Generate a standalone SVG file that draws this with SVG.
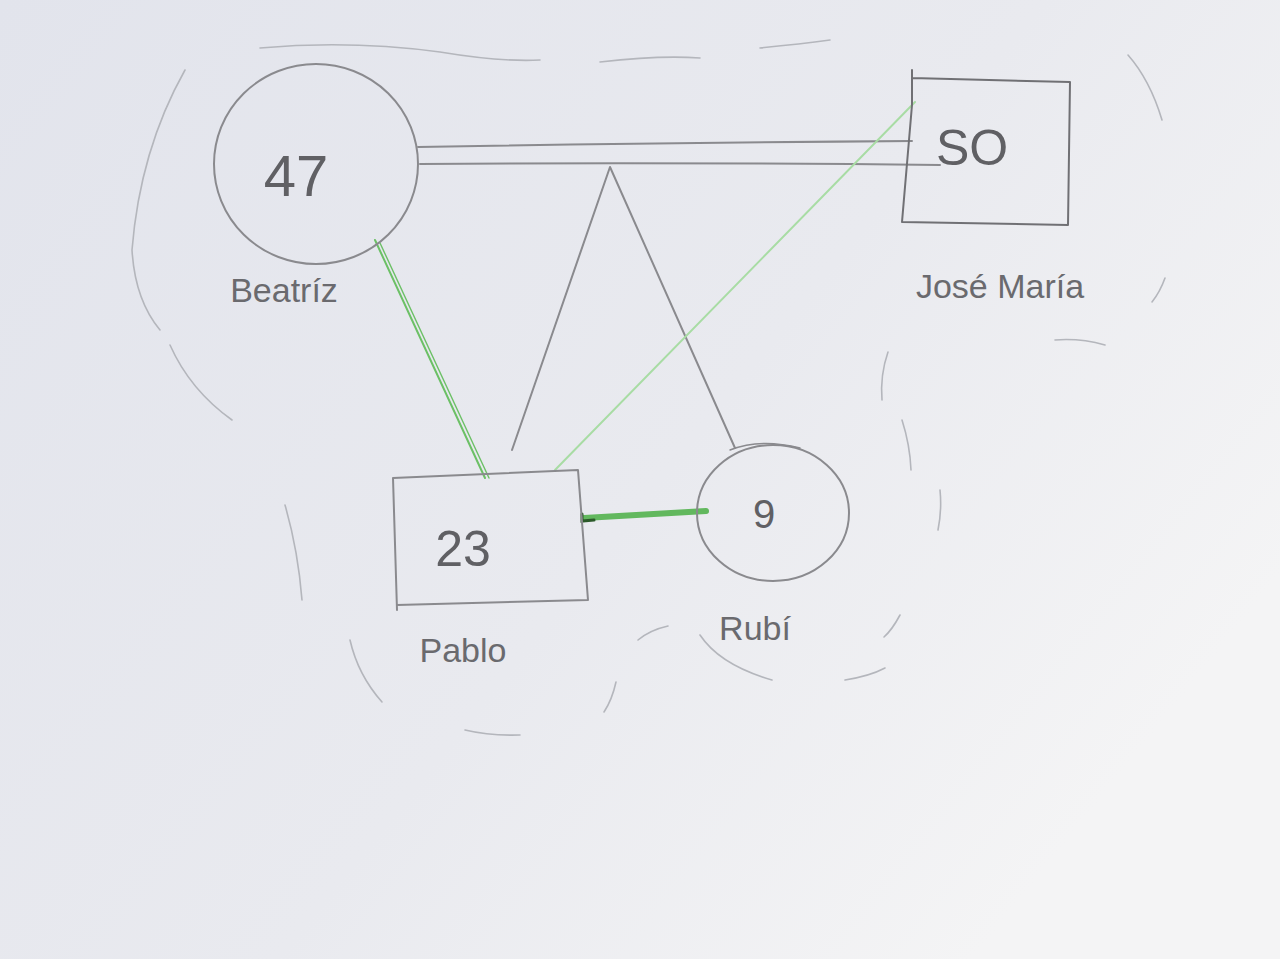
<svg xmlns="http://www.w3.org/2000/svg" width="1280" height="959" viewBox="0 0 1280 959">
<defs>
<linearGradient id="bg" x1="0" y1="0" x2="1" y2="0.6">
<stop offset="0" stop-color="#e2e4ec"/>
<stop offset="0.6" stop-color="#e9eaef"/>
<stop offset="1" stop-color="#f4f4f5"/>
</linearGradient>
<style>
.pen{fill:none;stroke:#8a8a8e;stroke-width:2;stroke-linecap:round;stroke-linejoin:round}
.dark{stroke:#707074}
.faint{fill:none;stroke:#b4b6bc;stroke-width:1.6;stroke-linecap:round}
.green{fill:none;stroke:#6cc066;stroke-width:2;stroke-linecap:round}
.lgreen{fill:none;stroke:#a8dca4;stroke-width:2;stroke-linecap:round}
.num{font-family:"Liberation Sans","DejaVu Sans",sans-serif;fill:#606064;text-anchor:middle;font-weight:normal}
.lbl{font-family:"Liberation Sans","DejaVu Sans",sans-serif;fill:#6a6a6e;font-size:34px;text-anchor:middle}
</style>
</defs>
<rect width="1280" height="959" fill="url(#bg)"/>
<g id="background-arcs">
<path class="faint" d="M185 70 Q140 150 132 250 Q135 300 160 330"/>
<path class="faint" d="M170 345 Q190 390 232 420"/>
<path class="faint" d="M260 48 Q350 40 440 52 Q500 62 540 60"/>
<path class="faint" d="M600 62 Q660 55 700 58"/>
<path class="faint" d="M760 48 Q800 44 830 40"/>
<path class="faint" d="M1128 55 Q1150 80 1162 120"/>
<path class="faint" d="M1165 278 Q1160 292 1152 302"/>
<path class="faint" d="M1055 340 Q1080 338 1105 345"/>
<path class="faint" d="M888 352 Q880 375 882 400"/>
<path class="faint" d="M902 420 Q910 445 911 470"/>
<path class="faint" d="M940 490 Q942 510 938 530"/>
<path class="faint" d="M900 615 Q892 630 884 637"/>
<path class="faint" d="M285 505 Q298 550 302 600"/>
<path class="faint" d="M350 640 Q358 675 382 702"/>
<path class="faint" d="M616 682 Q612 700 604 712"/>
<path class="faint" d="M638 640 Q650 630 668 626"/>
<path class="faint" d="M700 635 Q720 665 772 680"/>
<path class="faint" d="M845 680 Q870 676 885 668"/>
<path class="faint" d="M465 730 Q490 736 520 735"/>
</g>
<g id="connectors">
<path class="pen" d="M418 147 Q650 143 912 141"/>
<path class="pen" d="M420 164 Q660 162 940 165"/>
<path class="pen" d="M512 450 L610 167 L735 448"/>
<path class="green" d="M375 240 L485 478"/>
<path class="green" d="M380 243 L489 478" style="stroke-width:1.4"/>
<path class="lgreen" d="M915 102 L555 470"/>
<path class="green" d="M584 518 L706 511" style="stroke-width:6;stroke:#62b85e"/>
<path d="M582 514 L582 521 L594 520" style="fill:none;stroke:#2c5a2a;stroke-width:3;stroke-linecap:round"/>
</g>
<g id="beatriz">
<ellipse class="pen" cx="316" cy="164" rx="102" ry="100"/>
<text class="num" x="296" y="196" font-size="58">47</text>
<text class="lbl" x="284" y="302">Beatríz</text>
</g>
<g id="jose-maria">
<path class="pen dark" d="M912 70 L912 105 L902 222 L1068 225 L1070 82 L912 78"/>
<text class="num" x="972" y="165" font-size="50">SO</text>
<text class="lbl" x="1000" y="298">José María</text>
</g>
<g id="pablo">
<path class="pen" d="M393 478 L397 610 M397 605 L588 600 L578 470 L393 478"/>
<text class="num" x="463" y="566" font-size="50">23</text>
<text class="lbl" x="463" y="662">Pablo</text>
</g>
<g id="rubi">
<ellipse class="pen" cx="773" cy="513" rx="76" ry="68"/>
<path class="pen" d="M730 450 Q760 438 800 448" style="stroke-width:1.4"/>
<text class="num" x="764" y="528" font-size="40">9</text>
<text class="lbl" x="755" y="640">Rubí</text>
</g>
</svg>
